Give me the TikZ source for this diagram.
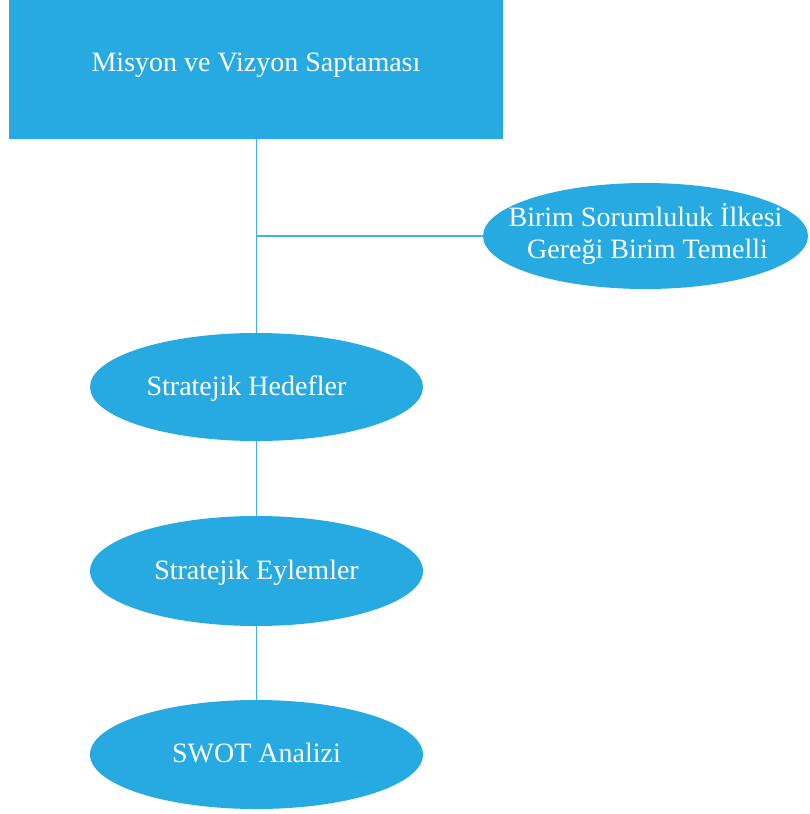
\documentclass[tikz,border=0pt]{standalone}
\usepackage{fontspec}
\setmainfont{Liberation Serif}
\usetikzlibrary{shapes.geometric}
\definecolor{sky}{HTML}{27AAE1}
\definecolor{skyline}{HTML}{3FB3E8}
\tikzset{
  lbl/.style={text=white, font=\fontsize{28}{34}\selectfont, inner sep=0pt, text height=18.5pt, text depth=0pt},
  ell/.style={ellipse, fill=sky, draw=none, inner sep=0pt, minimum width=333pt, minimum height=108pt},
  box/.style={rectangle, fill=sky, draw=none, inner sep=0pt, minimum width=494pt, minimum height=139pt},
  conn/.style={draw=skyline, line width=1.5pt}
}
\begin{document}
\begin{tikzpicture}[x=1pt,y=-1pt]
\useasboundingbox (0,0) rectangle (809,814);
\node[box, label={[lbl, yshift=7pt]center:Misyon ve Vizyon Saptaması}] (mv) at (256,69.5) {};
\node[ell, minimum width=325pt, minimum height=106pt,
  label={[lbl, yshift=18.5pt]center:Birim Sorumluluk İlkesi},
  label={[lbl, yshift=-12.75pt, xshift=2pt]center:Gereği Birim Temelli}] (br) at (645.5,236) {};
\node[ell, label={[lbl, yshift=1pt, xshift=-10pt]center:Stratejik Hedefler}] (sh) at (256.5,387) {};
\node[ell, minimum height=110pt, label={[lbl, yshift=1pt]center:Stratejik Eylemler}] (se) at (256.5,571) {};
\node[ell, minimum height=109pt, label={[lbl, yshift=1pt]center:SWOT Analizi}] (sw) at (256.5,754.5) {};
\coordinate (j) at (256.5,236);
\draw[conn] (mv.south -| sh.north) -- (sh.north);
\draw[conn] (j) -- (br.west);
\draw[conn] (sh.south) -- (se.north);
\draw[conn] (se.south) -- (sw.north);
\end{tikzpicture}
\end{document}
